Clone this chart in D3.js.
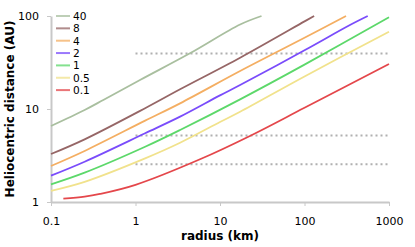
<!DOCTYPE html>
<html>
<head>
<meta charset="utf-8">
<script src="https://cdn.jsdelivr.net/npm/d3@7"></script>
<style>
  body { margin: 0; background: #fff; }
  svg { display: block; font-family: "DejaVu Sans", Verdana, sans-serif; }
</style>
</head>
<body>
<svg id="chart" width="415" height="247"></svg>
<script>
// series names (legend order) and colours
var seriesNames = ["40", "8", "4", "2", "1", "0.5", "0.1"];
var seriesColors = ["#a9bf9f", "#966666", "#f4ae62", "#7a4cfb", "#5cd86a", "#f1e28c", "#e4474b"];

// [radius km, heliocentric distance AU]
var s40  = [[0.1, 6.57], [0.25, 9.76], [0.416, 12.5], [1.13, 20.5], [4.41, 39.7], [17.3, 81], [31, 100]];
var s8   = [[0.1, 3.28], [0.25, 4.72], [1.3, 10.2], [3.37, 16.3], [17.3, 35.6], [100, 87.5], [130, 100]];
var s4   = [[0.1, 2.44], [0.25, 3.54], [1.3, 7.49], [3.37, 11.5], [17.3, 25.6], [100, 58.3], [310, 100]];
var s2   = [[0.1, 1.92], [0.25, 2.71], [1.3, 5.48], [3.37, 8.27], [10, 14.0], [17.3, 18.1], [100, 42.8], [345, 80], [560, 100]];
var s1   = [[0.1, 1.55], [0.25, 2.07], [1.3, 3.93], [3.37, 5.95], [17.3, 12.7], [100, 30], [1000, 96.8]];
var s05  = [[0.1, 1.32], [0.25, 1.65], [1.3, 2.95], [3.37, 4.34], [10, 7.25], [17.3, 9.35], [100, 22.4], [1000, 67.8]];
var s01  = [[0.14, 1.085], [0.25, 1.14], [0.38, 1.22], [1, 1.53], [5.8, 2.88], [22.6, 5.13], [100, 10.3], [1000, 30.5]];
var seriesData = [s40, s8, s4, s2, s1, s05, s01];

// dotted reference distances (AU), drawn from 1 to 1000 km
var refLevels = [2.55, 5.2, 39.5];
var refRange = [1, 1000];

var xTicks = [0.1, 1, 10, 100, 1000];
var xTickLabels = ["0.1", "1", "10", "100", "1000"];
var yTicks = [1, 10, 100];
var yTickLabels = ["1", "10", "100"];

var svg = d3.select("#chart");
var margin = { left: 51, right: 26, top: 16, bottom: 45 };
var width = 415 - margin.left - margin.right;
var height = 247 - margin.top - margin.bottom;

var x = d3.scaleLog().domain([0.1, 1000]).range([margin.left, margin.left + width]);
var y = d3.scaleLog().domain([1, 100]).range([margin.top + height, margin.top]);

// dotted reference lines
svg.append("g").selectAll("line").data(refLevels).enter()
    .append("line")
    .attr("x1", x(refRange[0]))
    .attr("x2", x(refRange[1]))
    .attr("y1", function (d) { return y(d); })
    .attr("y2", function (d) { return y(d); })
    .style("stroke", "#b0b0b0")
    .style("stroke-width", 2)
    .style("stroke-dasharray", "2,3");

// axes
var xAxis = d3.axisBottom(x).tickValues(xTicks)
    .tickFormat(function (d, i) { return xTickLabels[i]; })
    .tickSize(4).tickSizeOuter(0);
var yAxis = d3.axisLeft(y).tickValues(yTicks)
    .tickFormat(function (d, i) { return yTickLabels[i]; })
    .tickSize(4).tickSizeOuter(0);

var gx = svg.append("g")
    .attr("transform", "translate(0," + (margin.top + height) + ")")
    .call(xAxis);
var gy = svg.append("g")
    .attr("transform", "translate(" + margin.left + ",0)")
    .call(yAxis);

[gx, gy].forEach(function (g) {
    g.select(".domain").style("stroke", "#c8c8c8").style("stroke-width", 2);
    g.selectAll(".tick line").style("stroke", "#c8c8c8").style("stroke-width", 1);
    g.selectAll(".tick text")
        .style("font-family", "DejaVu Sans, Verdana, sans-serif")
        .style("font-size", "11px")
        .style("fill", "#000");
});
gx.selectAll(".tick text").attr("y", 23).attr("dy", 0);
gy.selectAll(".tick text").attr("x", -12);

// series lines
var line = d3.line()
    .x(function (d) { return x(d[0]); })
    .y(function (d) { return y(d[1]); })
    .curve(d3.curveCatmullRom.alpha(0.5));

var plot = svg.append("g");
seriesData.forEach(function (data, i) {
    plot.append("path")
        .datum(data)
        .attr("d", line)
        .style("fill", "none")
        .style("stroke", seriesColors[i])
        .style("stroke-width", 1.8);
});

// legend
var legend = svg.append("g");
seriesNames.forEach(function (name, i) {
    var ly = 16 + i * 12.35;
    legend.append("line")
        .attr("x1", 56).attr("x2", 70)
        .attr("y1", ly).attr("y2", ly)
        .style("stroke", seriesColors[i])
        .style("stroke-width", 2)
        .style("opacity", 0.75);
    legend.append("text")
        .attr("x", 73).attr("y", ly)
        .attr("dy", "0.36em")
        .style("font-size", "10.6px")
        .text(name);
});

// axis titles
svg.append("text")
    .attr("x", margin.left + width / 2)
    .attr("y", 240)
    .attr("text-anchor", "middle")
    .style("font-size", "12px")
    .style("font-weight", "bold")
    .text("radius (km)");

svg.append("text")
    .attr("transform", "translate(14," + (margin.top + height / 2) + ") rotate(-90)")
    .attr("text-anchor", "middle")
    .style("font-size", "12px")
    .style("font-weight", "bold")
    .text("Heliocentric distance (AU)");
</script>
</body>
</html>
